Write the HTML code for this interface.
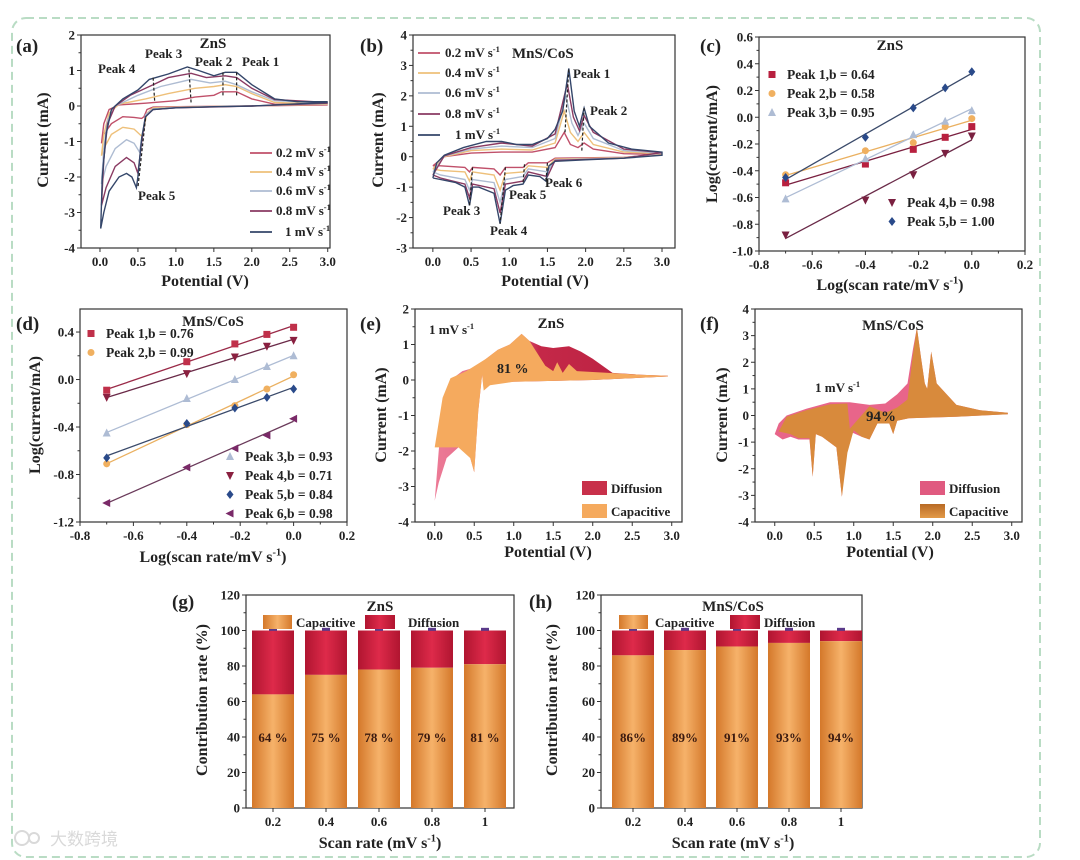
<!DOCTYPE html>
<html><head><meta charset="utf-8">
<style>
html,body{margin:0;padding:0;background:#fff;}
svg{display:block;font-family:"Liberation Serif",serif;font-weight:bold;}
</style></head>
<body>
<svg id="fig" width="1080" height="860" viewBox="0 0 1080 860" xmlns="http://www.w3.org/2000/svg">
<defs>
<linearGradient id="gOr" x1="0" x2="1" y1="0" y2="0"><stop offset="0" stop-color="#d4782a"/><stop offset="0.5" stop-color="#f6b26a"/><stop offset="1" stop-color="#d4782a"/></linearGradient>
<linearGradient id="gRd" x1="0" x2="1" y1="0" y2="0"><stop offset="0" stop-color="#b01530"/><stop offset="0.5" stop-color="#de2a4a"/><stop offset="1" stop-color="#b01530"/></linearGradient>
<linearGradient id="gE" x1="0" x2="1" y1="0" y2="0"><stop offset="0" stop-color="#ec7a96"/><stop offset="0.35" stop-color="#e06080"/><stop offset="0.45" stop-color="#c42848"/><stop offset="1" stop-color="#b82040"/></linearGradient>
<linearGradient id="gF" x1="0" x2="0" y1="0" y2="1"><stop offset="0" stop-color="#b86a25"/><stop offset="1" stop-color="#e39a48"/></linearGradient>
</defs>
<rect x="12" y="18" width="1028" height="839" rx="14" fill="none" stroke="#b9dcc4" stroke-width="2" stroke-dasharray="8,5"/>
<g id="root"></g>
<g opacity="0.55">
<circle cx="22" cy="838" r="7" fill="none" stroke="#bbb" stroke-width="2"/><circle cx="34" cy="838" r="5" fill="none" stroke="#bbb" stroke-width="2"/>
<text x="50" y="845" font-size="17" fill="#bbb" font-family="'Liberation Sans','Noto Sans CJK SC',sans-serif" font-weight="normal">大数跨境</text>
</g>
</svg>
<script>
// ---------- DATA ----------
const cvA_rates = ["0.2","0.4","0.6","0.8","1"];
const cvA_02 = [[3.0,0.03],[2.0,0],[1.0,-0.02],[0.7,-0.03],[0.62,-0.1],[0.58,-0.3],[0.55,-0.35],[0.45,-0.32],[0.3,-0.3],[0.15,-0.5],[0.05,-0.8],[0.02,-1.05],[0.05,-0.5],[0.12,-0.1],[0.25,0.03],[0.6,0.08],[1.0,0.15],[1.25,0.25],[1.5,0.3],[1.6,0.4],[1.8,0.4],[2.0,0.2],[2.3,0.05],[3.0,0.03]];
const cvA_04 = [[3.0,0.05],[2.0,0],[1.0,-0.03],[0.7,-0.05],[0.62,-0.2],[0.58,-0.6],[0.55,-0.85],[0.45,-0.65],[0.3,-0.6],[0.15,-0.8],[0.05,-1.2],[0.02,-1.4],[0.05,-0.8],[0.12,-0.2],[0.25,0.05],[0.6,0.2],[0.9,0.35],[1.25,0.5],[1.5,0.55],[1.65,0.6],[1.8,0.55],[2.0,0.35],[2.3,0.1],[3.0,0.05]];
const cvA_06 = [[3.0,0.07],[2.0,0],[1.0,-0.04],[0.7,-0.08],[0.6,-0.25],[0.56,-0.8],[0.52,-1.3],[0.45,-1.05],[0.35,-0.95],[0.2,-1.2],[0.08,-1.7],[0.02,-2.2],[0.05,-1.2],[0.1,-0.4],[0.2,0],[0.5,0.3],[0.8,0.55],[1.2,0.75],[1.45,0.65],[1.65,0.7],[1.8,0.6],[2.0,0.4],[2.3,0.15],[3.0,0.08]];
const cvA_08 = [[3.0,0.08],[2.0,0],[1.0,-0.05],[0.7,-0.1],[0.6,-0.3],[0.55,-1.0],[0.5,-1.9],[0.45,-1.6],[0.35,-1.45],[0.2,-1.7],[0.08,-2.3],[0.02,-2.8],[0.05,-1.5],[0.1,-0.5],[0.2,0],[0.4,0.3],[0.7,0.6],[0.9,0.8],[1.2,0.92],[1.4,0.8],[1.65,0.85],[1.8,0.8],[2.0,0.5],[2.3,0.18],[3.0,0.1]];
const cvA_10 = [[3.0,0.1],[2.5,0.05],[2.0,0.0],[1.5,-0.02],[1.0,-0.05],[0.7,-0.1],[0.6,-0.3],[0.55,-0.9],[0.5,-2.0],[0.48,-2.3],[0.42,-2.0],[0.35,-1.9],[0.25,-2.0],[0.12,-2.4],[0.05,-3.0],[0.01,-3.45],[0.03,-2.0],[0.08,-0.8],[0.15,-0.1],[0.3,0.2],[0.5,0.45],[0.65,0.75],[0.9,0.9],[1.15,1.1],[1.3,1.0],[1.5,0.85],[1.65,0.95],[1.8,0.95],[2.0,0.6],[2.3,0.2],[2.6,0.12],[3.0,0.12]];
const cvB_02 = [[0.0,-0.3],[0.15,0.0],[0.5,0.12],[0.9,0.15],[1.3,0.15],[1.6,0.3],[1.72,0.8],[1.8,0.4],[1.9,0.3],[1.98,0.45],[2.1,0.25],[2.5,0.1],[3.0,0.08],[2.5,-0.02],[1.6,-0.05],[1.5,-0.2],[1.25,-0.2],[1.18,-0.35],[0.95,-0.35],[0.88,-0.6],[0.8,-0.4],[0.52,-0.35],[0.48,-0.5],[0.42,-0.35],[0.1,-0.3],[0.0,-0.3]];
const cvB_04 = [[0.0,-0.4],[0.15,0.0],[0.5,0.2],[0.9,0.25],[1.3,0.22],[1.6,0.45],[1.72,1.5],[1.8,0.8],[1.9,0.5],[1.98,0.8],[2.1,0.4],[2.5,0.15],[3.0,0.1],[2.5,-0.03],[1.6,-0.08],[1.5,-0.35],[1.25,-0.3],[1.18,-0.5],[0.95,-0.55],[0.88,-1.1],[0.8,-0.6],[0.52,-0.5],[0.48,-0.8],[0.42,-0.5],[0.1,-0.45],[0.0,-0.4]];
const cvB_06 = [[0.0,-0.5],[0.15,0.02],[0.5,0.25],[0.9,0.35],[1.3,0.3],[1.6,0.6],[1.74,2.0],[1.82,1.1],[1.9,0.7],[1.98,1.1],[2.1,0.6],[2.5,0.2],[3.0,0.12],[2.5,-0.04],[1.6,-0.1],[1.5,-0.5],[1.25,-0.4],[1.18,-0.65],[0.95,-0.75],[0.88,-1.5],[0.8,-0.85],[0.52,-0.75],[0.48,-1.1],[0.42,-0.75],[0.1,-0.6],[0.0,-0.5]];
const cvB_08 = [[0.0,-0.6],[0.15,0.03],[0.5,0.3],[0.9,0.45],[1.3,0.35],[1.6,0.75],[1.76,2.4],[1.84,1.3],[1.92,0.85],[1.98,1.35],[2.1,0.8],[2.5,0.25],[3.0,0.14],[2.5,-0.05],[1.6,-0.12],[1.5,-0.65],[1.25,-0.5],[1.18,-0.8],[0.95,-0.9],[0.88,-1.85],[0.8,-1.05],[0.52,-0.9],[0.48,-1.35],[0.42,-0.9],[0.1,-0.7],[0.0,-0.6]];
const cvB_10 = [[0.0,-0.7],[0.05,-0.2],[0.15,0.05],[0.4,0.3],[0.7,0.5],[0.9,0.5],[1.1,0.4],[1.3,0.4],[1.5,0.6],[1.6,0.9],[1.7,1.5],[1.78,2.9],[1.85,1.5],[1.92,1.0],[1.98,1.6],[2.05,1.0],[2.3,0.45],[2.6,0.25],[3.0,0.15],[3.0,0.05],[2.5,-0.05],[2.0,-0.1],[1.6,-0.15],[1.52,-0.3],[1.48,-0.8],[1.4,-0.65],[1.25,-0.6],[1.18,-0.9],[1.05,-0.95],[0.95,-1.1],[0.88,-2.2],[0.8,-1.2],[0.6,-1.0],[0.52,-1.0],[0.48,-1.6],[0.42,-1.0],[0.3,-0.85],[0.1,-0.75],[0.0,-0.7]];
const logRate = [-0.7,-0.4,-0.22,-0.1,0];
const c_p1 = [-0.49,-0.35,-0.24,-0.15,-0.07];
const c_p2 = [-0.43,-0.25,-0.19,-0.07,-0.01];
const c_p3 = [-0.61,-0.31,-0.13,-0.03,0.05];
const c_p4 = [-0.88,-0.62,-0.43,-0.27,-0.14];
const c_p5 = [-0.45,-0.15,0.07,0.22,0.34];
const d_p1 = [-0.09,0.15,0.3,0.38,0.44];
const d_p2 = [-0.71,-0.38,-0.22,-0.08,0.04];
const d_p3 = [-0.45,-0.16,0.0,0.11,0.2];
const d_p4 = [-0.15,0.05,0.19,0.28,0.33];
const d_p5 = [-0.66,-0.37,-0.24,-0.15,-0.08];
const d_p6 = [-1.04,-0.74,-0.58,-0.47,-0.33];
const e_total = [[0.0,-3.4],[0.05,-2.0],[0.1,-0.8],[0.2,0.0],[0.35,0.25],[0.5,0.35],[0.65,0.6],[0.8,0.85],[0.95,1.0],[1.1,1.3],[1.2,1.1],[1.35,0.95],[1.5,0.9],[1.7,0.95],[1.85,0.8],[2.0,0.6],[2.25,0.2],[2.6,0.15],[2.95,0.12],[2.95,0.1],[2.0,0.0],[1.0,-0.05],[0.7,-0.1],[0.62,-0.25],[0.6,0.15],[0.55,-0.9],[0.5,-2.6],[0.45,-2.2],[0.35,-1.9],[0.3,-1.9],[0.15,-2.2],[0.05,-2.9],[0.0,-3.4]];
const e_cap = [[0.0,-1.9],[0.1,-0.5],[0.2,0.05],[0.4,0.25],[0.65,0.6],[0.8,0.85],[0.95,1.0],[1.1,1.3],[1.2,1.1],[1.4,0.4],[1.5,0.25],[1.55,0.5],[1.62,0.2],[1.7,0.45],[1.8,0.25],[2.2,0.2],[2.6,0.15],[2.95,0.12],[2.95,0.1],[2.0,0.0],[1.0,-0.05],[0.7,-0.15],[0.62,-0.3],[0.6,0.15],[0.55,-0.9],[0.5,-2.6],[0.45,-2.2],[0.3,-1.9],[0.0,-1.9]];
const f_total = [[0.0,-0.7],[0.05,-0.3],[0.15,0.0],[0.4,0.25],[0.7,0.5],[0.95,0.5],[1.2,0.4],[1.4,0.45],[1.55,0.8],[1.68,1.2],[1.75,2.5],[1.8,3.3],[1.85,2.2],[1.9,1.2],[1.93,1.0],[1.98,2.4],[2.05,1.2],[2.3,0.4],[2.6,0.2],[2.95,0.1],[2.95,0.05],[2.3,-0.05],[1.7,-0.1],[1.55,-0.2],[1.5,-0.7],[1.45,-0.3],[1.3,-0.3],[1.2,-0.9],[1.1,-0.8],[0.95,-0.6],[0.9,-1.5],[0.85,-3.05],[0.78,-1.2],[0.6,-0.8],[0.52,-0.7],[0.48,-2.3],[0.44,-0.9],[0.3,-0.9],[0.2,-0.8],[0.1,-0.9],[0.0,-0.7]];
const f_cap = [[0.05,-0.6],[0.15,-0.05],[0.4,0.2],[0.7,0.42],[0.92,0.45],[0.95,-0.5],[1.2,0.35],[1.4,0.1],[1.55,0.3],[1.68,0.6],[1.75,2.3],[1.8,3.3],[1.85,2.2],[1.9,1.2],[1.93,1.0],[1.98,2.4],[2.05,1.2],[2.3,0.4],[2.6,0.2],[2.95,0.1],[2.95,0.05],[2.3,-0.05],[1.7,-0.1],[1.55,-0.2],[1.5,-0.7],[1.45,-0.3],[1.3,-0.3],[1.2,-0.9],[1.1,-0.8],[1.0,-0.55],[0.92,-1.4],[0.85,-3.05],[0.78,-1.2],[0.6,-0.8],[0.52,-0.7],[0.48,-2.3],[0.44,-0.85],[0.3,-0.85],[0.2,-0.7],[0.05,-0.6]];
const rateLabels = ["0.2","0.4","0.6","0.8","1"];
const g_cap = [64,75,78,79,81];
const g_lbl = ["64 %","75 %","78 %","79 %","81 %"];
const h_cap = [86,89,91,93,94];
const h_lbl = ["86%","89%","91%","93%","94%"];

// ---------- DRAW ----------
const NS="http://www.w3.org/2000/svg";
const root=document.getElementById('root');
function el(tag,attrs,parent){const e=document.createElementNS(NS,tag);for(const k in attrs)e.setAttribute(k,attrs[k]);(parent||root).appendChild(e);return e;}
function txt(s,x,y,size,parent,anchor,extra){const t=el('text',Object.assign({x:x,y:y,'font-size':size,'text-anchor':anchor||'start',fill:'#222'},extra||{}),parent);t.textContent=s;return t;}
function unitTxt(pre,x,y,size,parent,anchor,post){const t=el('text',{x:x,y:y,'font-size':size,'text-anchor':anchor||'start',fill:'#222'},parent);
 t.appendChild(document.createTextNode(pre));const sp=el('tspan',{'font-size':size*0.65,dy:-size*0.4},t);sp.textContent='-1';
 if(post){const p=el('tspan',{dy:size*0.4},t);p.textContent=post;}return t;}

function axes(name,c){
 const g=el('g',{});
 
 
 const X=v=>c.L+(v-c.xmin)/(c.xmax-c.xmin)*(c.R-c.L);
 const Y=v=>c.B-(v-c.ymin)/(c.ymax-c.ymin)*(c.B-c.T);
 const box=el('rect',{x:c.L,y:c.T,width:c.R-c.L,height:c.B-c.T,fill:'none',stroke:'#333','stroke-width':1.2},g);
 
 
 const xa=el('g',{},g);
 
 
 if(c.xt){c.xt.forEach((v,i)=>{const x=X(v);el('line',{x1:x,x2:x,y1:c.B,y2:c.B+4,stroke:'#333','stroke-width':1},xa);
   if(i<c.xt.length-1 && c.xminor){const xm=X((v+c.xt[i+1])/2);el('line',{x1:xm,x2:xm,y1:c.B,y2:c.B+2.5,stroke:'#333'},xa);}
   const t=txt(c.xf(v),x,c.B+18,13,xa,'middle');
   
   });}
 const ya=el('g',{},g);
 
 
 c.yt.forEach((v,i)=>{const y=Y(v);el('line',{x1:c.L-4,x2:c.L,y1:y,y2:y,stroke:'#333'},ya);
   if(i<c.yt.length-1){const ym=Y((v+c.yt[i+1])/2);el('line',{x1:c.L-2.5,x2:c.L,y1:ym,y2:ym,stroke:'#333'},ya);}
   const t=txt(c.yf(v),c.L-6,y+4.5,13,ya,'end');
   
   });
 if(c.xtitle){const t=c.xtitleSup?unitTxt(c.xtitle,c.xtx,c.xty,16,g,'middle',c.xtitleSup):txt(c.xtitle,c.xtx,c.xty,16,g,'middle');
   
   }
 const yt=txt(c.ytitle,0,0,16,g,'middle',{transform:`translate(${c.ytx},${c.yty}) rotate(-90)`});
 
 
 const pl=txt(c.letter,c.lx,c.ly,19,g,'start');
 
 
 return {X,Y,g};
}
const f0=v=>v.toFixed(0), f1=v=>v.toFixed(1);
const range=(a,b,s)=>{const r=[];for(let v=a;v<=b+1e-9;v+=s)r.push(+v.toFixed(4));return r;};
function pathOf(pts,X,Y,close){return pts.map((p,i)=>(i?'L':'M')+X(p[0]).toFixed(1)+','+Y(p[1]).toFixed(1)).join('')+(close?'Z':'');}
const rateColors=['#c0506a','#eec07a','#aebcd2','#8a3a62','#34466a'];

// ---- (a)
{const A=axes('panel-a-zns-cv',{L:81,R:330,T:35,B:248,xmin:-0.25,xmax:3.03,ymin:-4,ymax:2,xt:range(0,3,0.5),xf:f1,yt:range(-4,2,1),yf:f0,xtitle:'Potential (V)',xtx:205,xty:286,ytitle:'Current (mA)',ytx:48,yty:140,letter:'(a)',lx:16,ly:52});
 const series=[cvA_02,cvA_04,cvA_06,cvA_08,cvA_10];
 series.forEach((s,i)=>{const p=el('path',{d:pathOf(s,A.X,A.Y),fill:'none',stroke:rateColors[i],'stroke-width':1.4},A.g);
  
  });
 txt('ZnS',213,48,15,A.g,'middle');
 [['Peak 4',98,73],['Peak 3',145,58],['Peak 2',195,66],['Peak 1',242,66],['Peak 5',138,200]].forEach(p=>{const t=txt(p[0],p[1],p[2],13,A.g);
  
  });
 [[0.72,0.15,0.7,0.8],[1.2,0.1,1.17,1.1],[1.62,0.3,1.62,0.95],[1.8,0.3,1.8,0.95],[0.6,-0.35,0.5,-2.3]].forEach(m=>el('line',{x1:A.X(m[0]),y1:A.Y(m[1]),x2:A.X(m[2]),y2:A.Y(m[3]),stroke:'#222','stroke-dasharray':'3,2','stroke-width':1.2},A.g));
 cvA_rates.forEach((r,i)=>{const y=[157,176,195,215,236][i];
  const lg=el('g',{},A.g);
  
  
  el('line',{x1:250,x2:272,y1:y-4,y2:y-4,stroke:rateColors[i],'stroke-width':1.8},lg);
  unitTxt((i==4?' ':'')+r+' mV s',i==4?285:276,y,13,lg);});
}
// ---- (b)
{const B=axes('panel-b-mnscos-cv',{L:413,R:675,T:35,B:248,xmin:-0.26,xmax:3.17,ymin:-3,ymax:4,xt:range(0,3,0.5),xf:f1,yt:range(-3,4,1),yf:f0,xtitle:'Potential (V)',xtx:545,xty:286,ytitle:'Current  (mA)',ytx:383,yty:140,letter:'(b)',lx:360,ly:52});
 [cvB_02,cvB_04,cvB_06,cvB_08,cvB_10].forEach((s,i)=>{const p=el('path',{d:pathOf(s,B.X,B.Y),fill:'none',stroke:rateColors[i],'stroke-width':1.4},B.g);
  
  });
 [[1.73,0.8,1.78,2.9],[1.95,0.2,1.98,1.6],[0.52,-0.35,0.48,-1.6],[0.95,-0.35,0.88,-2.2],[1.2,-0.25,1.18,-0.9],[1.5,-0.2,1.48,-0.8]].forEach(m=>el('line',{x1:B.X(m[0]),y1:B.Y(m[1]),x2:B.X(m[2]),y2:B.Y(m[3]),stroke:'#222','stroke-dasharray':'3,2','stroke-width':1.2},B.g));
 [['Peak 1',573,78],['Peak 2',590,115],['Peak 6',545,187],['Peak 5',509,199],['Peak 3',443,215],['Peak 4',490,235]].forEach(p=>{const t=txt(p[0],p[1],p[2],13,B.g);
  
  });
 cvA_rates.forEach((r,i)=>{const y=[57,77,97,118,139][i];
  const lg=el('g',{},B.g);
  
  
  el('line',{x1:418,x2:440,y1:y-4,y2:y-4,stroke:rateColors[i],'stroke-width':1.8},lg);
  unitTxt(r+' mV s',i==4?455:445,y,13,lg);});
 txt('MnS/CoS',512,58,15,B.g);
}
function marker(shape,x,y,col,parent){let m;const s=3.5;
 if(shape=='sq')m=el('rect',{x:x-s,y:y-s,width:2*s,height:2*s,fill:col},parent);
 else if(shape=='ci')m=el('circle',{cx:x,cy:y,r:s,fill:col},parent);
 else if(shape=='tu')m=el('path',{d:`M${x},${y-s-1}L${x+s+0.5},${y+s}L${x-s-0.5},${y+s}Z`,fill:col},parent);
 else if(shape=='td')m=el('path',{d:`M${x},${y+s+1}L${x+s+0.5},${y-s}L${x-s-0.5},${y-s}Z`,fill:col},parent);
 else if(shape=='di')m=el('path',{d:`M${x},${y-s-1}L${x+s},${y}L${x},${y+s+1}L${x-s},${y}Z`,fill:col},parent);
 else m=el('path',{d:`M${x-s-1},${y}L${x+s},${y-s-0.5}L${x+s},${y+s+0.5}Z`,fill:col},parent);
 return m;}
function fitLine(xs,ys){const n=xs.length;const mx=xs.reduce((a,b)=>a+b)/n,my=ys.reduce((a,b)=>a+b)/n;let sxy=0,sxx=0;xs.forEach((x,i)=>{sxy+=(x-mx)*(ys[i]-my);sxx+=(x-mx)*(x-mx);});const b=sxy/sxx;return [b,my-b*mx];}
function logPanel(P,sets){sets.forEach(s=>{const gg=el('g',{},P.g);
  
  
  const [b,a]=fitLine(logRate,s.y);
  el('line',{x1:P.X(-0.7),y1:P.Y(a+b*-0.7),x2:P.X(0),y2:P.Y(a),stroke:s.line,'stroke-width':1.3},gg);
  s.y.forEach((v,i)=>{const m=marker(s.shape,P.X(logRate[i]),P.Y(v),s.col,gg);
   
   });
  const lg=el('g',{},P.g);
  
  
  marker(s.shape,s.lx,s.ly-4.5,s.col,lg);txt(s.label,s.lx+15,s.ly,13.5,lg);});}
// ---- (c)
{const C=axes('panel-c-zns-loglog',{L:759,R:1025,T:37,B:251,xmin:-0.8,xmax:0.2,ymin:-1.0,ymax:0.6,xt:range(-0.8,0.2,0.2),xminor:true,xf:f1,yt:range(-1.0,0.6,0.2),yf:f1,xtitle:'Log(scan rate/mV s',xtitleSup:')',xtx:890,xty:290,ytitle:'Log(current/mA)',ytx:717,yty:144,letter:'(c)',lx:700,ly:52});
 txt('ZnS',890,50,15,C.g,'middle');
 logPanel(C,[
  {name:'series-peak-1',y:c_p1,shape:'sq',col:'#b8203f',line:'#7a2040',label:'Peak 1,b = 0.64',lx:772,ly:79},
  {name:'series-peak-2',y:c_p2,shape:'ci',col:'#f0b060',line:'#eab060',label:'Peak 2,b = 0.58',lx:772,ly:98},
  {name:'series-peak-3',y:c_p3,shape:'tu',col:'#aebcd4',line:'#aebcd4',label:'Peak 3,b = 0.95',lx:772,ly:117},
  {name:'series-peak-4',y:c_p4,shape:'td',col:'#7a2040',line:'#6a2a48',label:'Peak 4,b = 0.98',lx:892,ly:207},
  {name:'series-peak-5',y:c_p5,shape:'di',col:'#2a4a8a',line:'#3a4a6a',label:'Peak 5,b = 1.00',lx:892,ly:226}]);
}
// ---- (d)
{const D=axes('panel-d-mnscos-loglog',{L:80,R:347,T:309,B:522,xmin:-0.8,xmax:0.2,ymin:-1.2,ymax:0.594,xt:range(-0.8,0.2,0.2),xminor:true,xf:f1,yt:range(-1.2,0.4,0.4),yf:f1,xtitle:'Log(scan rate/mV s',xtitleSup:')',xtx:213,xty:562,ytitle:'Log(current/mA)',ytx:40,yty:415,letter:'(d)',lx:16,ly:330});
 txt('MnS/CoS',213,326,15,D.g,'middle');
 logPanel(D,[
  {name:'series-peak-1',y:d_p1,shape:'sq',col:'#c0304a',line:'#9a2a48',label:'Peak 1,b = 0.76',lx:91,ly:338},
  {name:'series-peak-2',y:d_p2,shape:'ci',col:'#f0b060',line:'#eab060',label:'Peak 2,b = 0.99',lx:91,ly:357},
  {name:'series-peak-3',y:d_p3,shape:'tu',col:'#aebcd4',line:'#aebcd4',label:'Peak 3,b = 0.93',lx:230,ly:461},
  {name:'series-peak-4',y:d_p4,shape:'td',col:'#8a2040',line:'#6a2a48',label:'Peak 4,b = 0.71',lx:230,ly:480},
  {name:'series-peak-5',y:d_p5,shape:'di',col:'#2a4a8a',line:'#3a4a6a',label:'Peak 5,b = 0.84',lx:230,ly:499},
  {name:'series-peak-6',y:d_p6,shape:'tl',col:'#7a2a68',line:'#6a3a5a',label:'Peak 6,b = 0.98',lx:230,ly:518}]);
}
// ---- (e)
{const E=axes('panel-e-zns-contribution',{L:415,R:682,T:309,B:522,xmin:-0.25,xmax:3.13,ymin:-4,ymax:2,xt:range(0,3,0.5),xf:f1,yt:range(-4,2,1),yf:f0,xtitle:'Potential (V)',xtx:548,xty:557,ytitle:'Current (mA)',ytx:386,yty:415,letter:'(e)',lx:360,ly:330});
 const t=el('path',{d:pathOf(e_total,E.X,E.Y,true),fill:'url(#gE)'},E.g);
 
 
 const c=el('path',{d:pathOf(e_cap,E.X,E.Y,true),fill:'#f5aa5e'},E.g);
 
 
 unitTxt('1 mV s',429,334,13,E.g);txt('ZnS',551,328,15,E.g,'middle');txt('81 %',497,373,14,E.g);
 const l1=el('g',{},E.g);
 el('rect',{x:582,y:481,width:25,height:14,fill:'#c8304a'},l1);txt('Diffusion',611,493,13,l1);
 const l2=el('g',{},E.g);
 el('rect',{x:582,y:504,width:25,height:14,fill:'#f5aa5e'},l2);txt('Capacitive',611,516,13,l2);
}
// ---- (f)
{const F=axes('panel-f-mnscos-contribution',{L:755,R:1022,T:309,B:522,xmin:-0.25,xmax:3.13,ymin:-4,ymax:4,xt:range(0,3,0.5),xf:f1,yt:range(-4,4,1),yf:f0,xtitle:'Potential (V)',xtx:890,xty:557,ytitle:'Current (mA)',ytx:727,yty:415,letter:'(f)',lx:700,ly:330});
 const t=el('path',{d:pathOf(f_total,F.X,F.Y,true),fill:'#e8658a'},F.g);
 
 
 const c=el('path',{d:pathOf(f_cap,F.X,F.Y,true),fill:'#d88a3c'},F.g);
 
 
 txt('MnS/CoS',893,330,15,F.g,'middle');unitTxt('1 mV s',815,392,13,F.g);txt('94%',866,421,15,F.g);
 const l1=el('g',{},F.g);
 el('rect',{x:920,y:481,width:25,height:14,fill:'#e05a80'},l1);txt('Diffusion',949,493,13,l1);
 const l2=el('g',{},F.g);
 el('rect',{x:920,y:504,width:25,height:14,fill:'url(#gF)'},l2);txt('Capacitive',949,516,13,l2);
}
// ---- bars
function barPanel(name,L,R,c0,step,cap,lbls,letter,lx,title,titleX,ytx,xtx){
 const P=axes(name,{L:L,R:R,T:595,B:808,xmin:0,xmax:1,ymin:0,ymax:120,yt:range(0,120,20),yf:f0,ytitle:'Contribution rate (%)',ytx:ytx,yty:700,letter:letter,lx:lx,ly:608});
 unitTxt('Scan rate (mV s',xtx,848,16,P.g,'middle',')');
 txt(title,titleX,611,15,P.g,'middle');
 cap.forEach((v,i)=>{const cx=c0+i*step,w=42;
  const bg=el('g',{},P.g);
  
  
  el('rect',{x:cx-w/2,y:P.Y(100),width:w,height:P.Y(v)-P.Y(100),fill:'url(#gRd)'},bg);
  el('rect',{x:cx-w/2,y:P.Y(v),width:w,height:P.Y(0)-P.Y(v),fill:'url(#gOr)'},bg);
  el('rect',{x:cx-4,y:P.Y(101.5),width:8,height:3,fill:'#5a3a8a'},bg);
  txt(lbls[i],cx,P.Y(40)+5,13,bg,'middle',{fill:'#3a1a10'});
  el('line',{x1:cx,x2:cx,y1:808,y2:812,stroke:'#333'},P.g);
  const t=txt(rateLabels[i],cx,826,13,P.g,'middle');
  
  });
 return P;}
{const G=barPanel('panel-g-zns-bars',246,514,273,53,g_cap,g_lbl,'(g)',172,'ZnS',380,207,380);
 const lg=el('g',{},G.g);
 el('rect',{x:263,y:615,width:29,height:14,fill:'url(#gOr)'},lg);txt('Capacitive',296,627,13,lg);
 el('rect',{x:365,y:615,width:30,height:14,fill:'url(#gRd)'},lg);txt('Diffusion',408,627,13,lg);}
{const H=barPanel('panel-h-mnscos-bars',601,862,633,52,h_cap,h_lbl,'(h)',529,'MnS/CoS',733,557,733);
 const lg=el('g',{},H.g);
 el('rect',{x:619,y:615,width:29,height:14,fill:'url(#gOr)'},lg);txt('Capacitive',655,627,13,lg);
 el('rect',{x:730,y:615,width:30,height:14,fill:'url(#gRd)'},lg);txt('Diffusion',764,627,13,lg);}
</script>
</body></html>
